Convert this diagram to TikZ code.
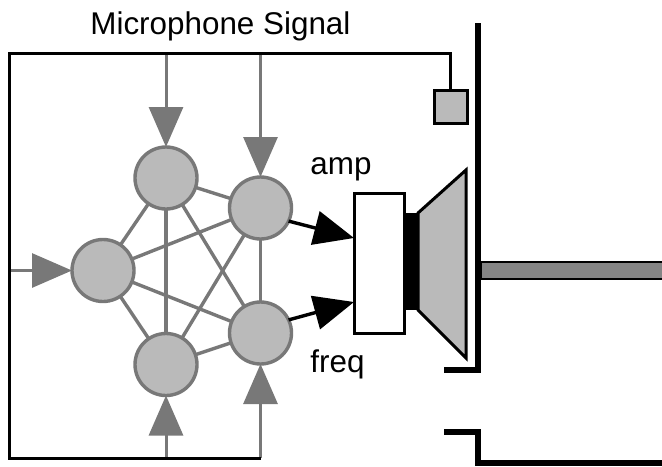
\documentclass[tikz,border=0pt]{standalone}
\usepackage{fontspec}
\setmainfont{Liberation Sans}
\usetikzlibrary{arrows.meta}
\definecolor{lightfill}{gray}{0.73}
\definecolor{netgray}{gray}{0.47}
\definecolor{shaftgray}{gray}{0.52}
\tikzset{
  unit/.style={circle, draw=netgray, fill=lightfill, line width=1.7pt, minimum size=31pt, inner sep=0pt, outer sep=0pt},
  link/.style={draw=netgray, line width=1.7pt},
  input/.style={draw=netgray, line width=1.5pt, -{Triangle[length=20pt, width=17pt, fill=netgray]}},
  output/.style={black, line width=1.7pt, -{Triangle[length=20pt, width=17pt, fill=black]}},
  wire/.style={black, line width=1.5pt},
  wall/.style={black, line width=3.2pt, line cap=butt},
  label/.style={font=\fontsize{15.7}{18}\selectfont, inner sep=0pt, anchor=base west}
}
\begin{document}
\begin{tikzpicture}[x=0.5pt, y=-0.5pt]
\useasboundingbox (0,0) rectangle (662,466);

\node [unit] (top) at (166,178) {};
\node [unit] (righttop) at (260.5,208) {};
\node [unit] (left) at (103,270.5) {};
\node [unit] (bottom) at (166,364.5) {};
\node [unit] (rightbottom) at (260.5,333) {};

\foreach \a/\b in {top/righttop, top/left, top/bottom, top/rightbottom, righttop/left, righttop/bottom, righttop/rightbottom, left/bottom, left/rightbottom, bottom/rightbottom}
  \draw [link] (\a) -- (\b);

\coordinate (topin) at (166,53);
\coordinate (righttopin) at (260.5,53);
\coordinate (leftin) at (9,270.5);
\coordinate (bottomin) at (166,458);
\coordinate (rightbottomin) at (260.5,458);

\draw [input] (topin) -- (top);
\draw [input] (righttopin) -- (righttop);
\draw [input] (leftin) -- (left);
\draw [input] (bottomin) -- (bottom);
\draw [input] (rightbottomin) -- (rightbottom);

\node [draw=black, fill=lightfill, line width=1.5pt, minimum size=16.5pt, inner sep=0pt] (mic) at (450.5,106.5) {};
\coordinate (wiretop) at (450.5,53);
\draw [wire, line join=miter] (mic) -- (wiretop) -- (9,53) -- (9,458) -- (rightbottomin);

\node [draw=black, fill=white, line width=1.5pt, minimum width=25pt, minimum height=70pt, inner sep=0pt, outer sep=0pt] (amplifier) at (379.5,263) {};
\node [draw=none, fill=black, minimum width=7.5pt, minimum height=48.5pt, inner sep=0pt, outer sep=0pt] (coil) at (411,261.5) {};
\draw [wire, fill=lightfill, line join=miter] (418,213) -- (466,170) -- (466,358) -- (418,310) -- cycle;

\coordinate (amptip) at (354,238);
\coordinate (freqtip) at (354,302);
\draw [output] (righttop.-25) -- (amptip);
\draw [output] (rightbottom.25) -- (freqtip);

\draw [wall] (478,23) -- (478,370) -- (444,370);
\draw [wall] (444,432) -- (478,432) -- (478,463) -- (662,463);
\draw [black, line width=1pt, fill=shaftgray] (481,262) rectangle (664,279);

\node [label] (title) at (90,34) {Microphone Signal};
\node [label] (amp) at (310,174) {amp};
\node [label] (freq) at (310,372) {freq};

\end{tikzpicture}
\end{document}
